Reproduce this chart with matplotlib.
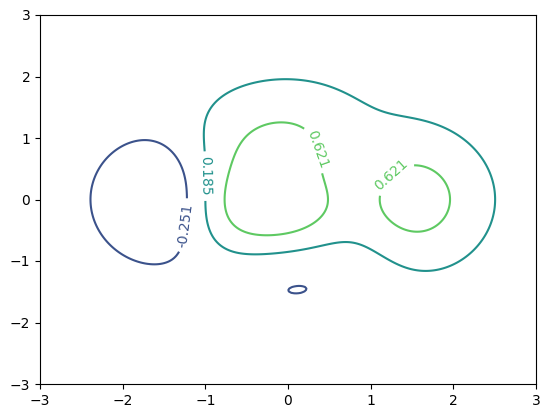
import numpy as np
import matplotlib
matplotlib.use("Agg")
import matplotlib.pyplot as plt

# grid extent and contour levels
x_range = [-3, 3]
y_range = [-3, 3]
levels = [-0.251, 0.185, 0.621]
level_min, level_max = -0.687, 1.057

X, Y = np.meshgrid(np.linspace(x_range[0], x_range[1], 256),
                   np.linspace(y_range[0], y_range[1], 256))
Z = (1 - X / 2 + X**5 + Y**3) * np.exp(-X**2 - Y**2)

fig = plt.figure(figsize=(5.5, 4.18), dpi=100)
ax = fig.add_axes([40 / 550, 34 / 418, 496 / 550, 369 / 418])
cs = ax.contour(X, Y, Z, levels=levels, cmap="viridis",
                vmin=level_min, vmax=level_max)
label_spots = [(-1.25, -0.42), (-0.96, 0.38), (0.35, 0.82), (1.26, 0.40)]
ax.clabel(cs, fmt="%.3f", fontsize=10, manual=label_spots)
fig.savefig("out.png", dpi=100)
